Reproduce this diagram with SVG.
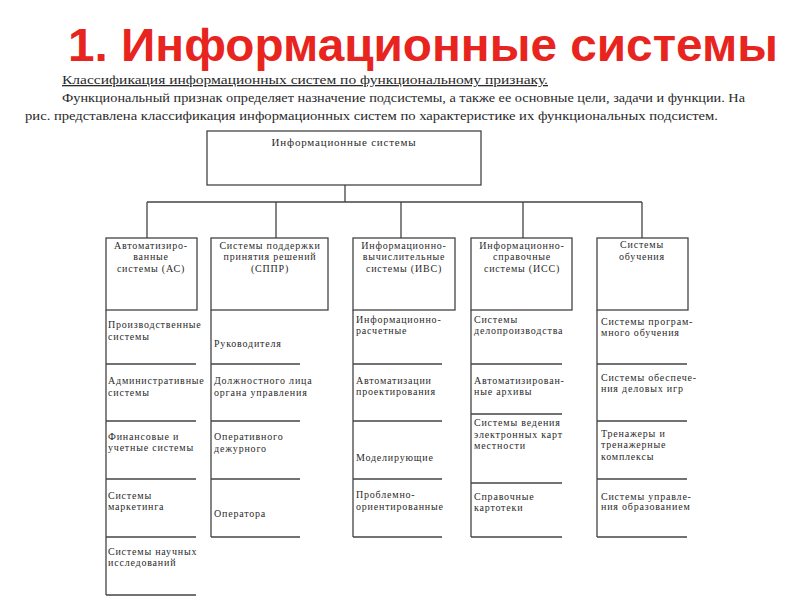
<svg xmlns="http://www.w3.org/2000/svg" width="800" height="600" viewBox="0 0 800 600">
<style>
.title{font-family:"Liberation Sans",Arial,sans-serif;font-weight:bold;font-size:46px;fill:#e8241f}
.hdr{font-family:"Liberation Serif","Times New Roman",serif;font-size:13px;fill:#2a2a2a}
.t{font-family:"Liberation Serif","Times New Roman",serif;font-size:10px;fill:#2a2a2a;letter-spacing:0.8px}
.c{text-anchor:middle}
.box{fill:#fff;stroke:#444;stroke-width:1.3}
.ln{stroke:#444;stroke-width:1.3;fill:none}
</style>
<rect width="800" height="600" fill="#fff"/>
<text class="title" x="68" y="61" textLength="710" lengthAdjust="spacingAndGlyphs">1. Информационные системы</text>
<text class="hdr" x="62" y="84" text-decoration="underline" textLength="486" lengthAdjust="spacingAndGlyphs">Классификация информационных систем по функциональному признаку.</text>
<text class="hdr" x="62" y="102" textLength="683" lengthAdjust="spacingAndGlyphs">Функциональный признак определяет назначение подсистемы, а также ее основные цели, задачи и функции. На</text>
<text class="hdr" x="25" y="120" textLength="693" lengthAdjust="spacingAndGlyphs">рис.  представлена классификация информационных систем по характеристике их функциональных подсистем.</text>

<g id="connectors">
<path class="ln" d="M345 185V202M147 202H642M147 202V238M276 202V238M401 202V238M523 202V238M642 202V238"/>
</g>

<g id="root">
<rect class="box" x="207" y="131" width="274" height="54"/>
<text class="t c" x="344" y="146" style="font-size:11px">Информационные системы</text>
</g>

<g id="col-as">
<rect class="box" x="106" y="238" width="91" height="72"/>
<path class="ln" d="M106 310V595M106 364H196M106 421H196M106 479H196M106 537H196M106 595H196"/>
<text class="t c" x="151" y="249">Автоматизиро-</text>
<text class="t c" x="151" y="260">ванные</text>
<text class="t c" x="151" y="272">системы (АС)</text>
<text class="t" x="108" y="328">Производственные</text>
<text class="t" x="108" y="340">системы</text>
<text class="t" x="108" y="384">Административные</text>
<text class="t" x="108" y="396">системы</text>
<text class="t" x="108" y="440">Финансовые и</text>
<text class="t" x="108" y="451">учетные системы</text>
<text class="t" x="108" y="499">Системы</text>
<text class="t" x="108" y="510">маркетинга</text>
<text class="t" x="108" y="555">Системы научных</text>
<text class="t" x="108" y="566">исследований</text>
</g>

<g id="col-sppr">
<rect class="box" x="211" y="238" width="117" height="72"/>
<path class="ln" d="M211 310V537M211 364H300M211 421H300M211 479H300M211 537H300"/>
<text class="t c" x="270" y="249">Системы поддержки</text>
<text class="t c" x="270" y="260">принятия решений</text>
<text class="t c" x="270" y="272">(СППР)</text>
<text class="t" x="214" y="347">Руководителя</text>
<text class="t" x="214" y="384">Должностного лица</text>
<text class="t" x="214" y="396">органа управления</text>
<text class="t" x="214" y="440">Оперативного</text>
<text class="t" x="214" y="452">дежурного</text>
<text class="t" x="214" y="517">Оператора</text>
</g>

<g id="col-ivs">
<rect class="box" x="353" y="238" width="102" height="72"/>
<path class="ln" d="M353 310V537M353 364H442M353 421H442M353 479H442M353 537H442"/>
<text class="t c" x="404" y="249">Информационно-</text>
<text class="t c" x="404" y="260">вычислительные</text>
<text class="t c" x="404" y="272">системы (ИВС)</text>
<text class="t" x="356" y="323">Информационно-</text>
<text class="t" x="356" y="334">расчетные</text>
<text class="t" x="356" y="384">Автоматизации</text>
<text class="t" x="356" y="395">проектирования</text>
<text class="t" x="356" y="461">Моделирующие</text>
<text class="t" x="356" y="498">Проблемно-</text>
<text class="t" x="356" y="510">ориентированные</text>
</g>

<g id="col-iss">
<rect class="box" x="471" y="238" width="101" height="72"/>
<path class="ln" d="M471 310V537M471 364H562M471 414H562M471 483H562M471 537H562"/>
<text class="t c" x="522" y="249">Информационно-</text>
<text class="t c" x="522" y="260">справочные</text>
<text class="t c" x="522" y="272">системы (ИСС)</text>
<text class="t" x="474" y="323">Системы</text>
<text class="t" x="474" y="334">делопроизводства</text>
<text class="t" x="474" y="384">Автоматизирован-</text>
<text class="t" x="474" y="395">ные архивы</text>
<text class="t" x="474" y="426">Системы ведения</text>
<text class="t" x="474" y="438">электронных карт</text>
<text class="t" x="474" y="449">местности</text>
<text class="t" x="474" y="500">Справочные</text>
<text class="t" x="474" y="511">картотеки</text>
</g>

<g id="col-edu">
<rect class="box" x="597" y="238" width="91" height="72"/>
<path class="ln" d="M597 310V537M597 364H687M597 421H687M597 479H687M597 537H687"/>
<text class="t c" x="642" y="248">Системы</text>
<text class="t c" x="642" y="260">обучения</text>
<text class="t" x="601" y="325">Системы програм-</text>
<text class="t" x="601" y="336">много обучения</text>
<text class="t" x="601" y="381">Системы обеспече-</text>
<text class="t" x="601" y="392">ния деловых игр</text>
<text class="t" x="601" y="437">Тренажеры и</text>
<text class="t" x="601" y="448">тренажерные</text>
<text class="t" x="601" y="460">комплексы</text>
<text class="t" x="601" y="500">Системы управле-</text>
<text class="t" x="601" y="510">ния образованием</text>
</g>
</svg>
